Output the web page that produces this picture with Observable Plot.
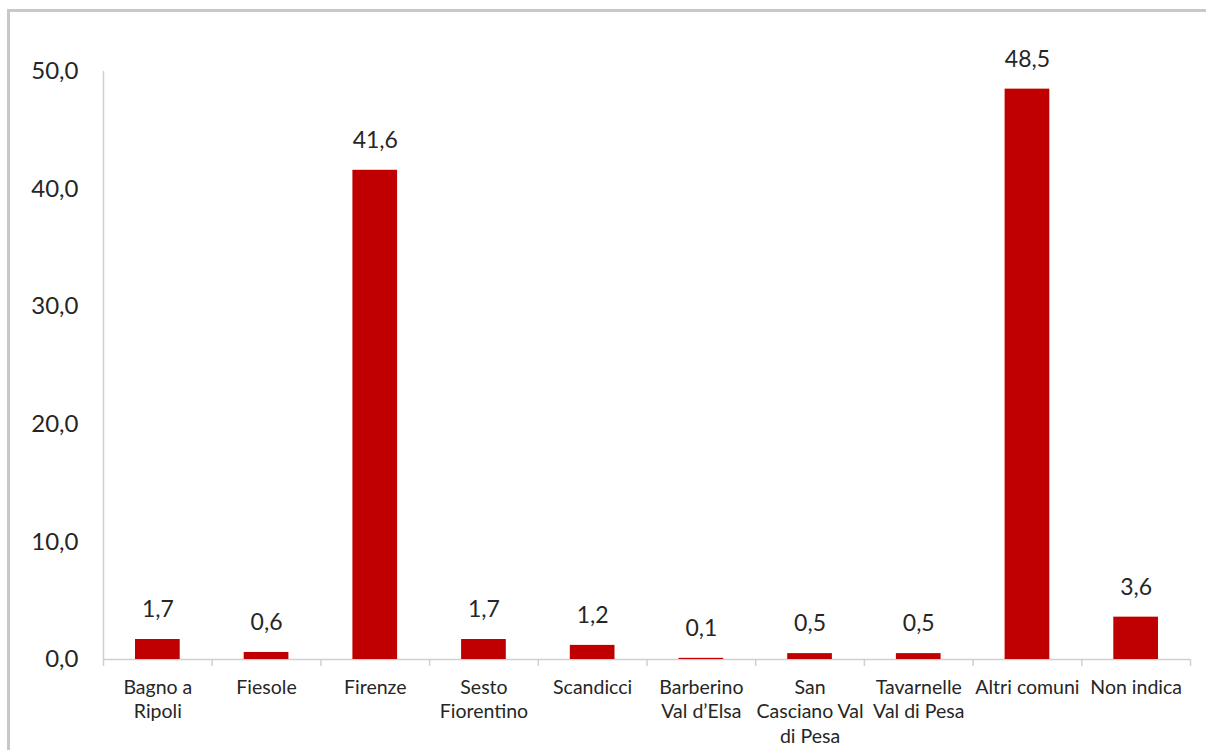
<!DOCTYPE html>
<html>
<head>
<meta charset="utf-8">
<script src="https://cdn.jsdelivr.net/npm/d3@7"></script>
<script src="https://cdn.jsdelivr.net/npm/@observablehq/plot@0.6"></script>
<style>
  html, body { margin: 0; padding: 0; background: #fff; overflow: hidden; }
  #wrap { position: relative; width: 1206px; height: 750px; }
  #border { position: absolute; left: 7px; top: 9px; width: 1400px; height: 900px; border-top: 3px solid #c8c8c8; border-left: 3px solid #c8c8c8; }
  #chart { position: absolute; left: 0; top: 0; }
</style>
</head>
<body>
<div id="wrap"><div id="border"></div><div id="chart"></div></div>
<script>
const categories = ["Bagno a Ripoli", "Fiesole", "Firenze", "Sesto Fiorentino", "Scandicci",
  "Barberino Val d’Elsa", "San Casciano Val di Pesa", "Tavarnelle Val di Pesa", "Altri comuni", "Non indica"];
const values = [1.7, 0.6, 41.6, 1.7, 1.2, 0.1, 0.5, 0.5, 48.5, 3.6];
const tickLabels = ["Bagno a\nRipoli", "Fiesole", "Firenze", "Sesto\nFiorentino", "Scandicci",
  "Barberino\nVal d’Elsa", "San\nCasciano Val\ndi Pesa", "Tavarnelle\nVal di Pesa", "Altri comuni", "Non indica"];
const yTicks = [0, 10, 20, 30, 40, 50];

const data = categories.map((c, i) => ({cat: c, val: values[i]}));
const labelOf = new Map(categories.map((c, i) => [c, tickLabels[i]]));
const fmt = v => d3.format(".1f")(v).replace(".", ",");

const W = 1206, H = 750, mL = 103, mR = 16, mT = 71, mB = 91;
const step = (W - mL - mR) / categories.length;

const chart = Plot.plot({
  width: W, height: H,
  marginLeft: mL, marginRight: mR, marginTop: mT, marginBottom: mB,
  style: {fontFamily: "Lato, 'Open Sans', sans-serif", color: "#262626", background: "transparent"},
  x: {domain: categories, padding: 0, round: false, label: null},
  y: {domain: [0, 50], label: null},
  marks: [
    Plot.ruleY([0], {stroke: "#d0d0d0", strokeWidth: 1.5}),
    Plot.ruleX([categories[0]], {dx: -step / 2, y1: 50, y2: -0.6, stroke: "#d0d0d0", strokeWidth: 1.5}),
    Plot.ruleX(categories, {dx: step / 2, y1: 0, y2: -0.6, stroke: "#d0d0d0", strokeWidth: 1.5}),
    Plot.barY(data, {x: "cat", y: "val", fill: "#c00000", insetLeft: 32, insetRight: 32}),
    Plot.text(data, {x: "cat", y: "val", text: d => fmt(d.val), dy: -30, fontSize: 23, fill: "#262626"}),
    Plot.axisY({ticks: yTicks, tickSize: 0, tickPadding: 25, fontSize: 24, tickFormat: fmt, label: null}),
    Plot.axisX({tickSize: 0, tickPadding: 17, fontSize: 19.5, lineHeight: 1.25, tickFormat: d => labelOf.get(d), label: null})
  ]
});
document.getElementById("chart").appendChild(chart);
</script>
</body>
</html>
